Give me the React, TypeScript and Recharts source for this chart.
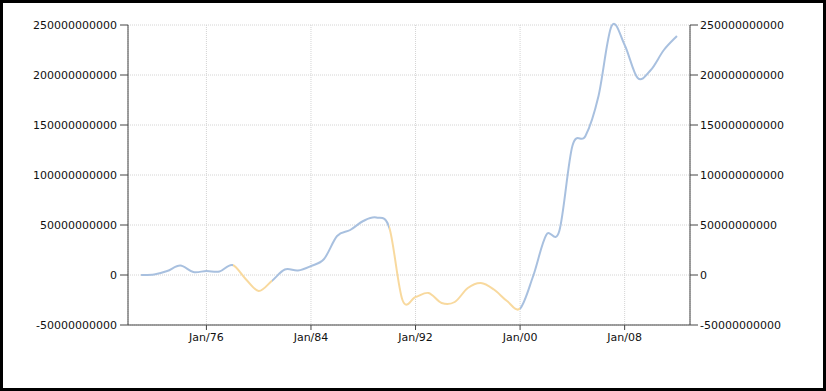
import { LineChart, Line, XAxis, YAxis, CartesianGrid } from 'recharts';

const years = [
  1971, 1972, 1973, 1974, 1975, 1976, 1977, 1978, 1979, 1980, 1981, 1982, 1983, 1984,
  1985, 1986, 1987, 1988, 1989, 1990, 1991, 1992, 1993, 1994, 1995, 1996, 1997, 1998,
  1999, 2000, 2001, 2002, 2003, 2004, 2005, 2006, 2007, 2008, 2009, 2010, 2011, 2012,
];

// values in billions
const balanceBn = [
  0, 0.5, 4, 9.5, 3, 4, 3.5, 10, -4, -16, -6, 5.5, 4.5, 9,
  16, 39, 45, 54, 57.5, 47, -25, -22, -18, -28, -27, -13, -8, -14.5,
  -26, -33.5, -1, 40, 44, 129, 139, 179, 249, 230, 197, 205, 225, 239,
];

// year ranges drawn in the second colour
const highlightRanges: [number, number][] = [
  [1978, 1981],
  [1990, 2000],
];

const xTicks = [1976, 1984, 1992, 2000, 2008];
const yTicks = [-50e9, 0, 50e9, 100e9, 150e9, 200e9, 250e9];

const BLUE = '#a8c0df';
const ORANGE = '#f8d99e';

const data = years.map((year, i) => ({ year, value: balanceBn[i] * 1e9 }));

const first = years[0];
const span = years[years.length - 1] - first;

function gradientStops() {
  const stops: { offset: number; color: string }[] = [{ offset: 0, color: BLUE }];
  highlightRanges.forEach(([a, b]) => {
    const oa = (a - first) / span;
    const ob = (b - first) / span;
    stops.push({ offset: oa, color: BLUE }, { offset: oa, color: ORANGE });
    stops.push({ offset: ob, color: ORANGE }, { offset: ob, color: BLUE });
  });
  stops.push({ offset: 1, color: BLUE });
  return stops;
}

// catmull-rom style curve, smoother than monotone
function cardinal(context: any) {
  let pts: [number, number][] = [];
  const k = 1 / 6;
  return {
    areaStart() {},
    areaEnd() {},
    lineStart() {
      pts = [];
    },
    point(x: number, y: number) {
      pts.push([+x, +y]);
    },
    lineEnd() {
      const n = pts.length;
      if (!n) return;
      context.moveTo(pts[0][0], pts[0][1]);
      for (let i = 0; i < n - 1; i++) {
        const p0 = pts[Math.max(i - 1, 0)];
        const p1 = pts[i];
        const p2 = pts[i + 1];
        const p3 = pts[Math.min(i + 2, n - 1)];
        context.bezierCurveTo(
          p1[0] + k * (p2[0] - p0[0]),
          p1[1] + k * (p2[1] - p0[1]),
          p2[0] - k * (p3[0] - p1[0]),
          p2[1] - k * (p3[1] - p1[1]),
          p2[0],
          p2[1],
        );
      }
    },
  };
}

const tickStyle = { fill: '#111', fontSize: 11, fontFamily: 'DejaVu Sans' };

export default function App() {
  return (
    <div style={{ position: 'absolute', left: 0, top: 0, width: 826, height: 391 }}>
      <div
        style={{
          position: 'absolute',
          left: 0,
          top: 0,
          width: 826,
          height: 391,
          boxSizing: 'border-box',
          border: '3px solid #000',
        }}
      />
      <div style={{ position: 'absolute', left: 0, top: 0 }}>
        <LineChart width={826} height={391} data={data} margin={{ top: 25, right: 0, bottom: 0, left: 0 }}>
          <defs>
            <linearGradient id="lineColour" x1="0" y1="0" x2="1" y2="0">
              {gradientStops().map((s, i) => (
                <stop key={i} offset={s.offset} stopColor={s.color} />
              ))}
            </linearGradient>
          </defs>
          <CartesianGrid stroke="#d4d4d4" strokeDasharray="1 1" yAxisId="left" />
          <XAxis
            dataKey="year"
            type="number"
            domain={[1970, 2013]}
            ticks={xTicks}
            tickFormatter={(y: number) => `Jan/${String(y).slice(2)}`}
            stroke="#444"
            tickSize={5}
            tickMargin={3}
            tick={tickStyle}
            height={66}
          />
          <YAxis
            yAxisId="left"
            domain={[-50e9, 250e9]}
            ticks={yTicks}
            stroke="#444"
            tickSize={8}
            tickMargin={3}
            tick={tickStyle}
            width={128}
            interval={0}
          />
          <YAxis
            yAxisId="right"
            orientation="right"
            domain={[-50e9, 250e9]}
            ticks={yTicks}
            stroke="#444"
            tickSize={8}
            tickMargin={2}
            tick={tickStyle}
            width={136}
            interval={0}
          />
          <Line
            yAxisId="left"
            type={cardinal as any}
            dataKey="value"
            stroke="url(#lineColour)"
            strokeWidth={2}
            dot={false}
            isAnimationActive={false}
          />
          <Line
            yAxisId="right"
            type="linear"
            dataKey="value"
            stroke="none"
            dot={false}
            activeDot={false}
            isAnimationActive={false}
          />
        </LineChart>
      </div>
    </div>
  );
}
